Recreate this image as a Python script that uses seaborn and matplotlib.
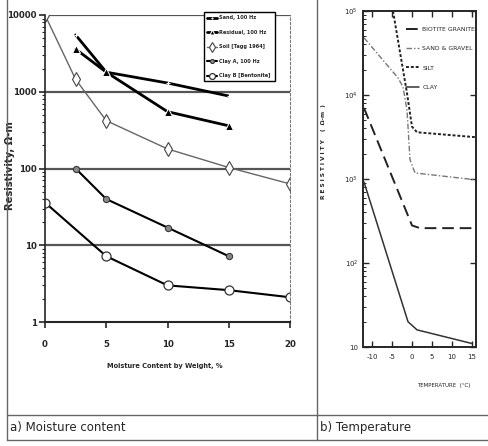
import numpy as np
import pandas as pd
import seaborn as sns
import matplotlib.pyplot as plt
from matplotlib.lines import Line2D
from matplotlib.ticker import LogLocator, NullFormatter, FixedLocator

# a) resistivity vs moisture content (read off the picture)
sand_x = [2.5, 5, 10, 15]
sand_y = [5500, 1800, 1300, 880]
resid_x = [2.5, 5, 10, 15]
resid_y = [3600, 1800, 550, 360]
soil_x = [0, 2.5, 5, 10, 15, 20]
soil_y = [10000, 1450, 420, 180, 103, 63]
clay_a_x = [2.5, 5, 10, 15]
clay_a_y = [100, 40, 17, 7.2]
clay_b_x = [0, 5, 10, 15, 20]
clay_b_y = [36, 7.2, 3.0, 2.6, 2.1]
moist_ticks = [0, 5, 10, 15, 20]
res_ticks = [1, 10, 100, 1000, 10000]

# b) resistivity vs temperature
granite_t = [-12, 0, 2, 16]
granite_r = [7000, 280, 260, 260]
sand_t = [-12, -3.5, -2.25, -1.25, -0.5, 0.75, 15.75]
sand_r = [48000, 16000, 12500, 6600, 1700, 1180, 980]
silt_t = [-4.75, -1.25, 0, 1.25, 15.75]
silt_r = [100000, 10500, 4200, 3600, 3150]
clay_t = [-12, -1, 1.25, 15]
clay_r = [920, 20, 16, 11]
temp_ticks = [-10, -5, 0, 5, 10, 15]
temp_res_ticks = [10, 100, 1000, 10000, 100000]
temp_res_labels = ['10', '10$^2$', '10$^3$', '10$^4$', '10$^5$']

sns.set_style("ticks")
plt.rcParams['font.family'] = ['Liberation Sans Narrow', 'DejaVu Sans']
plt.rcParams['axes.unicode_minus'] = False

fig = plt.figure(figsize=(4.89, 4.46), dpi=100)
W, H = 489, 446

def px_axes(l, t, r, b):
    return fig.add_axes([l / W, 1 - b / H, (r - l) / W, (b - t) / H])

# ---- left panel
ax = px_axes(45, 15, 290, 322)
sns.lineplot(x=sand_x, y=sand_y, ax=ax, color='black', lw=2, marker='+',
             markersize=3, mew=0.8, label='Sand, 100 Hz')
sns.lineplot(x=resid_x, y=resid_y, ax=ax, color='black', lw=2, marker='^',
             markersize=5.5, label='Residual, 100 Hz')
sns.lineplot(x=soil_x, y=soil_y, ax=ax, color='#666666', lw=1, marker='d',
             markersize=7.5, mfc='white', mec='#444444', mew=0.8,
             label='Soil [Tagg 1964]')
sns.lineplot(x=clay_a_x, y=clay_a_y, ax=ax, color='black', lw=1.5, marker='o',
             markersize=4.5, mfc='#888888', mec='#333333',
             label='Clay A, 100 Hz')
sns.lineplot(x=clay_b_x, y=clay_b_y, ax=ax, color='black', lw=1.5, marker='o',
             markersize=6.5, mfc='white', mec='#333333', mew=0.9,
             label='Clay B [Bentonite]')
ax.set_yscale('log')
ax.set_ylim(1, 10000)
ax.set_xlim(0, 20)
for v in res_ticks[1:]:
    ax.axhline(v, color='#555555', lw=1.6, zorder=0)
ax.set_xticks(moist_ticks)
ax.set_yticks(res_ticks)
ax.set_yticklabels([str(v) for v in res_ticks])
ax.yaxis.set_minor_locator(LogLocator(base=10, subs=np.arange(2, 10)))
ax.yaxis.set_minor_formatter(NullFormatter())
ax.tick_params(axis='both', labelsize=6.2, width=1.2, length=4)
ax.tick_params(axis='x', pad=9)
ax.tick_params(axis='y', pad=2)
ax.tick_params(axis='y', which='minor', length=2, width=0.8)
for lab in ax.get_xticklabels() + ax.get_yticklabels():
    lab.set_fontweight('bold')
ax.spines['top'].set_visible(False)
ax.spines['right'].set_linestyle((0, (2, 2)))
ax.spines['right'].set_color('#777777')
ax.spines['right'].set_linewidth(0.8)
ax.spines['left'].set_linewidth(1.2)
ax.spines['bottom'].set_linewidth(1.5)
ax.set_xlabel('Moisture Content by Weight, %', fontsize=4.8, fontweight='bold')
ax.set_ylabel('Resistivity, Ω-m', fontsize=7.2, fontweight='bold')
ax.xaxis.set_label_coords(0.488, -0.134)
ax.yaxis.set_label_coords(-0.122, 0.508)
leg = ax.legend(loc='upper left', bbox_to_anchor=(0.64, 1.016, 0.311, 0.001),
                mode='expand', frameon=True, fancybox=False,
                edgecolor='black', framealpha=1, markerscale=0.65,
                handlelength=2.0, handletextpad=0.4, labelspacing=1.9,
                borderpad=0.6, prop={'weight': 'bold', 'size': 3.6})
leg.get_frame().set_linewidth(1.0)
leg.set_zorder(5)

# ---- right panel
ax2 = px_axes(363, 11, 476, 347)
sns.lineplot(x=granite_t, y=granite_r, ax=ax2, color='#222222', lw=1.4,
             linestyle=(0, (6, 3)), label='BIOTITE GRANITE')
sns.lineplot(x=sand_t, y=sand_r, ax=ax2, color='#777777', lw=1.0,
             linestyle=(0, (4, 1.5, 1, 1.5)), label='SAND & GRAVEL')
sns.lineplot(x=silt_t, y=silt_r, ax=ax2, color='#222222', lw=1.4,
             linestyle=(0, (1.5, 1)), label='SILT')
sns.lineplot(x=clay_t, y=clay_r, ax=ax2, color='#333333', lw=1.1,
             label='CLAY')
ax2.set_yscale('log')
ax2.set_ylim(10, 100000)
ax2.set_xlim(-12.25, 16)
ax2.yaxis.set_major_locator(FixedLocator(temp_res_ticks))
ax2.set_yticklabels(temp_res_labels)
ax2.yaxis.set_minor_locator(LogLocator(base=10, subs=np.arange(2, 10)))
ax2.yaxis.set_minor_formatter(NullFormatter())
ax2.set_xticks(temp_ticks)
ax2.tick_params(axis='both', direction='in', labelsize=5, width=1, length=4,
                right=True, top=True)
ax2.tick_params(axis='y', which='minor', direction='in', length=2, width=0.7,
                right=False)
ax2.tick_params(axis='x', pad=5)
for s in ax2.spines.values():
    s.set_linewidth(1.4)
ax2.set_xlabel('TEMPERATURE  (°C)', fontsize=4)
ax2.set_ylabel('R E S I S T I V I T Y    (  Ω-m  )', fontsize=4.2,
               fontweight='bold')
ax2.xaxis.set_label_coords(0.717, -0.107)
ax2.yaxis.set_label_coords(-0.327, 0.583)
leg2 = ax2.legend(loc='upper left', bbox_to_anchor=(0.33, 0.97),
                  frameon=False, fontsize=4.4, handlelength=2.2,
                  handletextpad=0.5, labelspacing=2.3)

# ---- frame and caption row
def fline(x0, y0, x1, y1, lw=1.0, color='#666666'):
    fig.add_artist(Line2D([x0 / W, x1 / W], [1 - y0 / H, 1 - y1 / H],
                          color=color, lw=lw))

fline(7, 0, 7, 440)
fline(317, 0, 317, 440)
fline(7, 415, 489, 415)
fline(7, 440, 489, 440)
fig.text(10 / W, 1 - 428 / H, 'a) Moisture content', fontsize=8.5,
         va='center', ha='left')
fig.text(320 / W, 1 - 428 / H, 'b) Temperature', fontsize=8.5,
         va='center', ha='left')

fig.savefig('out.png', dpi=100)
